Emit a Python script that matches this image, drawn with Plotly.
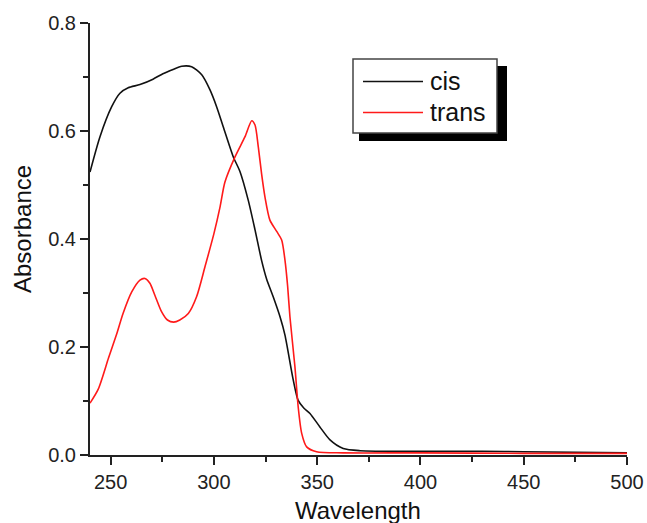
import plotly.graph_objects as go

# Absorption spectra of the two isomers
cis_wl = [240, 244.8, 250.5, 254.5, 258.5, 264.2, 270.5, 275.3, 280.2, 284.4,
          289.2, 294.1, 298.1, 301.3, 304.5, 309.4, 312.6, 316.6, 319.9, 323.1,
          325.5, 328.7, 332.0, 334.4, 338.4, 340.8, 343.5, 346.5, 351.3, 356.2,
          362.6, 370.7, 400, 430, 450, 500]
cis_abs = [0.524, 0.589, 0.645, 0.670, 0.680, 0.686, 0.696, 0.706, 0.714, 0.720,
           0.719, 0.704, 0.676, 0.645, 0.608, 0.552, 0.525, 0.472, 0.417, 0.360,
           0.326, 0.293, 0.256, 0.222, 0.139, 0.101, 0.087, 0.077, 0.052, 0.028,
           0.012, 0.008, 0.007, 0.007, 0.006, 0.004]

trans_wl = [240, 244, 249, 253, 256, 260.2, 264.2, 266.6, 269, 271.5,
            274.7, 277.5, 280.5, 283.5, 287.6, 291.6, 295.7, 300, 303, 305.3,
            310.2, 315, 318.3, 319.9, 321.5, 323.1, 324.7, 327.1, 330.4, 332.8,
            334.4, 335.7, 336.8, 339.2, 340.8, 342.5, 344.9, 349.7, 362.6, 400,
            450, 500]
trans_abs = [0.096, 0.122, 0.180, 0.225, 0.262, 0.302, 0.324, 0.327, 0.318, 0.295,
             0.265, 0.250, 0.246, 0.250, 0.262, 0.293, 0.349, 0.410, 0.460, 0.505,
             0.552, 0.589, 0.619, 0.611, 0.570, 0.520, 0.478, 0.435, 0.414, 0.398,
             0.361, 0.312, 0.256, 0.164, 0.089, 0.040, 0.015, 0.006, 0.004, 0.004,
             0.003, 0.003]

series_names = ["cis", "trans"]
series_colors = ["#111111", "#ff1a1a"]

x_ticks = [250, 300, 350, 400, 450, 500]
y_ticks = [0.0, 0.2, 0.4, 0.6, 0.8]

W, H = 647, 523
ML, MR, MT, MB = 90, 20, 23, 68
PW, PH = W - ML - MR, H - MT - MB


def px(x):
    return (x - ML) / PW


def py(y):
    return (H - MB - y) / PH


FONT = "Arial, Liberation Sans, sans-serif"
AXC = "#222222"

fig = go.Figure()
for wl, ab, name, col in zip([cis_wl, trans_wl], [cis_abs, trans_abs],
                             series_names, series_colors):
    fig.add_trace(go.Scatter(x=wl, y=ab, mode="lines", name=name,
                             line=dict(color=col, width=1.6, shape="spline",
                                       smoothing=0.7),
                             showlegend=False))

axis_common = dict(showline=True, linecolor=AXC, linewidth=2, mirror=False,
                   ticks="outside", ticklen=8, tickwidth=1.6, tickcolor=AXC,
                   showgrid=False, zeroline=False, automargin=False,
                   tickfont=dict(family=FONT, size=20, color="#222222"))

fig.update_xaxes(range=[240, 500], tickvals=x_ticks,
                 ticktext=[str(v) for v in x_ticks],
                 minor=dict(dtick=25, tick0=250, ticks="outside", ticklen=5,
                            tickwidth=1.6, tickcolor=AXC),
                 **axis_common)
fig.update_yaxes(range=[0, 0.8], tickvals=y_ticks,
                 ticktext=[f"{v:.1f}" for v in y_ticks],
                 minor=dict(dtick=0.1, tick0=0, ticks="outside", ticklen=5,
                            tickwidth=1.6, tickcolor=AXC),
                 **axis_common)

shapes = []
annotations = []

# legend box with drop shadow
shapes.append(dict(type="rect", xref="paper", yref="paper",
                   x0=px(359), x1=px(507), y0=py(66), y1=py(141),
                   fillcolor="#000000", line=dict(width=0), layer="above"))
shapes.append(dict(type="rect", xref="paper", yref="paper",
                   x0=px(353), x1=px(497), y0=py(59), y1=py(133),
                   fillcolor="#ffffff", line=dict(color="#444444", width=1.5),
                   layer="above"))
for i, (name, col) in enumerate(zip(series_names, series_colors)):
    yy = 81.5 + i * 31
    shapes.append(dict(type="line", xref="paper", yref="paper",
                       x0=px(363), x1=px(423), y0=py(yy), y1=py(yy),
                       line=dict(color=col, width=1.6), layer="above"))
    annotations.append(dict(text=name, xref="paper", yref="paper",
                            x=px(428), y=py(yy - 1), xanchor="left",
                            yanchor="middle", showarrow=False,
                            font=dict(family=FONT, size=25, color="#111111")))

# axis titles
annotations.append(dict(text="Absorbance", xref="paper", yref="paper",
                        x=px(22), y=py(229), xanchor="center", yanchor="middle",
                        textangle=-90, showarrow=False,
                        font=dict(family=FONT, size=24, color="#111111")))
annotations.append(dict(text="Wavelength", xref="paper", yref="paper",
                        x=px(358), y=py(511), xanchor="center", yanchor="middle",
                        showarrow=False,
                        font=dict(family=FONT, size=24, color="#111111")))

fig.update_layout(width=W, height=H,
                  margin=dict(l=ML, r=MR, t=MT, b=MB, pad=0, autoexpand=False),
                  paper_bgcolor="white", plot_bgcolor="white",
                  shapes=shapes, annotations=annotations,
                  showlegend=False)

fig.write_html("out.html", config={"displayModeBar": False})
